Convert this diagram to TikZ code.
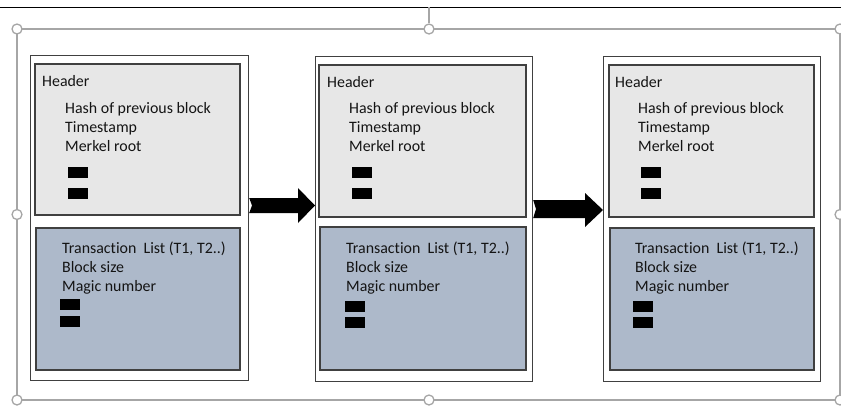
\documentclass[tikz,border=0pt]{standalone}
\usepackage{fontspec}
\setmainfont{Carlito}[Ligatures=NoCommon]
\usetikzlibrary{calc}
\definecolor{hdrfill}{HTML}{E7E7E7}
\definecolor{txfill}{HTML}{ADB9CA}
\definecolor{boxline}{HTML}{404040}
\definecolor{selline}{HTML}{A6A6A6}
\definecolor{txtcol}{HTML}{141414}
\tikzset{
  outerbox/.style={draw=boxline, line width=1.2pt, fill=white, inner sep=0pt, anchor=north west},
  hdrbox/.style={draw=boxline, line width=1.5pt, fill=hdrfill, inner sep=0pt, anchor=north west},
  txbox/.style={draw=boxline, line width=1.5pt, fill=txfill, inner sep=0pt, anchor=north west},
  lbl/.style={anchor=base west, inner sep=0pt, text=txtcol, font=\fontsize{15.9}{18}\selectfont},
  bar/.style={fill=black, draw=none, inner sep=0pt, anchor=north west, minimum width=20pt, minimum height=11pt},
  handle/.style={circle, draw=selline, fill=white, line width=1.3pt, minimum size=10pt, inner sep=0pt},
  sel/.style={draw=selline, line width=1.5pt},
  blockarrow/.style={fill=black}
}
\begin{document}
\begin{tikzpicture}[x=1pt,y=-1pt]
\useasboundingbox (0,0) rectangle (841,405);
% selection frame
\coordinate (c1) at (17,29);
\coordinate (c2) at (840,29);
\coordinate (c3) at (840,400);
\coordinate (c4) at (17,400);
\coordinate (rtop) at (429,7);
\draw[black, line width=1pt] (0,7) -- (841,7);
\draw[sel] (c1) -- (c2) -- (c3) -- (c4) -- cycle;
\node[handle] (hT) at (429,29) {};
\draw[sel] (rtop) -- (hT.north);
\node[handle] at (c1) {};
\node[handle] at (c2) {};
\node[handle] at (c3) {};
\node[handle] at (c4) {};
\node[handle] at (17,214.5) {};
\node[handle] at (840,214.5) {};
\node[handle] at (429,400) {};

% block 1
\node[outerbox, minimum width=218pt, minimum height=325pt] (o1) at (30,55) {};
\node[hdrbox, minimum width=205pt, minimum height=151pt] (hd1) at (34,63) {};
\node[txbox, minimum width=204pt, minimum height=142pt] (tx1) at (35,227) {};
\node[lbl] (h1) at (42,86) {Header};
\node[lbl] (h1a) at (65,113) {Hash of previous block};
\node[lbl] (h1b) at (65,132) {Timestamp};
\node[lbl] (h1c) at (65,151) {Merkel root};
\node[bar] (h1d) at (68,167) {};
\node[bar] (h1e) at (68,188) {};
\node[lbl] (t1a) at (62,253) {Transaction\ \ List (T1, T2..)};
\node[lbl] (t1b) at (62,272) {Block size};
\node[lbl] (t1c) at (62,291) {Magic number};
\node[bar] (t1d) at (60,299) {};
\node[bar] (t1e) at (60,316) {};

% block 2
\node[outerbox, minimum width=217pt, minimum height=325pt] (o2) at (315,56) {};
\node[hdrbox, minimum width=207pt, minimum height=152pt] (hd2) at (318,64) {};
\node[txbox, minimum width=206pt, minimum height=143pt] (tx2) at (319,226) {};
\node[lbl] (h2) at (327,87) {Header};
\node[lbl] (h2a) at (349,113) {Hash of previous block};
\node[lbl] (h2b) at (349,132) {Timestamp};
\node[lbl] (h2c) at (349,151) {Merkel root};
\node[bar] (h2d) at (352,167) {};
\node[bar] (h2e) at (352,188) {};
\node[lbl] (t2a) at (346,253) {Transaction\ \ List (T1, T2..)};
\node[lbl] (t2b) at (346,272) {Block size};
\node[lbl] (t2c) at (346,291) {Magic number};
\node[bar] (t2d) at (345,301) {};
\node[bar] (t2e) at (345,317) {};

% block 3
\node[outerbox, minimum width=217pt, minimum height=325pt] (o3) at (603,56) {};
\node[hdrbox, minimum width=205pt, minimum height=152pt] (hd3) at (608,64) {};
\node[txbox, minimum width=204pt, minimum height=142pt] (tx3) at (609,227) {};
\node[lbl] (h3) at (615,87) {Header};
\node[lbl] (h3a) at (638,113) {Hash of previous block};
\node[lbl] (h3b) at (638,132) {Timestamp};
\node[lbl] (h3c) at (638,151) {Merkel root};
\node[bar] (h3d) at (641,167) {};
\node[bar] (h3e) at (641,188) {};
\node[lbl] (t3a) at (635,253) {Transaction\ \ List (T1, T2..)};
\node[lbl] (t3b) at (635,272) {Block size};
\node[lbl] (t3c) at (635,291) {Magic number};
\node[bar] (t3d) at (633,301) {};
\node[bar] (t3e) at (633,317) {};

% block arrows
\fill[blockarrow] (o1.east |- 0,198) -- (298,198) -- (298,188) -- (o2.west |- 0,205.5)
  -- (298,223) -- (298,213) -- (o1.east |- 0,213) -- (252,205.5) -- cycle;
\fill[blockarrow] (o2.east |- 0,200) -- (585,200) -- (585,193) -- (o3.west |- 0,210)
  -- (585,227) -- (585,218) -- (o2.east |- 0,218) -- (536,209) -- cycle;
\end{tikzpicture}
\end{document}
